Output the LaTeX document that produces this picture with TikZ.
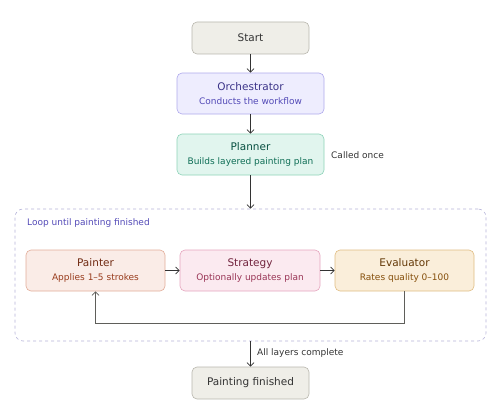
\documentclass[tikz,border=0pt]{standalone}
\usepackage{fontspec}
\setmainfont{DejaVu Sans}
\usetikzlibrary{positioning,arrows.meta}
\definecolor{greyfill}{HTML}{EFEEE8}
\definecolor{greyline}{HTML}{B8B6AD}
\definecolor{greytext}{HTML}{333333}
\definecolor{orchfill}{HTML}{EEEDFE}
\definecolor{orchline}{HTML}{AFA9EC}
\definecolor{orchtitle}{HTML}{3C3489}
\definecolor{orchsub}{HTML}{534AB7}
\definecolor{planfill}{HTML}{E1F5EE}
\definecolor{planline}{HTML}{8ED3B8}
\definecolor{plantitle}{HTML}{085041}
\definecolor{plansub}{HTML}{0F6E56}
\definecolor{paintfill}{HTML}{FAECE7}
\definecolor{paintline}{HTML}{E2AC98}
\definecolor{painttitle}{HTML}{712B13}
\definecolor{paintsub}{HTML}{993C1D}
\definecolor{stratfill}{HTML}{FBEAF0}
\definecolor{stratline}{HTML}{E5A5BE}
\definecolor{strattitle}{HTML}{72243E}
\definecolor{stratsub}{HTML}{993556}
\definecolor{evalfill}{HTML}{FAEEDA}
\definecolor{evalline}{HTML}{E0BC82}
\definecolor{evaltitle}{HTML}{633806}
\definecolor{evalsub}{HTML}{854F0B}
\definecolor{loopline}{HTML}{B4B2D8}
\definecolor{looptext}{HTML}{534AB7}
\definecolor{arrowgrey}{HTML}{5F5E5A}

\begin{document}
\begin{tikzpicture}[x=1pt,y=-1pt,
  box/.style={draw,rounded corners=5pt,line width=0.6pt,align=center,inner sep=0pt,
    minimum width=147pt,minimum height=41pt,font=\fontsize{10.5}{12}\selectfont},
  endbox/.style={box,fill=greyfill,draw=greyline,text=greytext,minimum width=117pt,minimum height=32pt},
  stepbox/.style={box,minimum width=139pt},
  note/.style={anchor=west,inner sep=0pt,font=\fontsize{9}{11}\selectfont},
  flow/.style={-{Straight Barb[length=3.5pt,width=7pt]},line width=0.8pt,draw=greytext}]
 \useasboundingbox (0,0) rectangle (500,412);
 % top column
 \node[endbox] (start) at (250.5,38) {Start};
 \node[box,fill=orchfill,draw=orchline] (orch) at (250.5,93.5)
   {\color{orchtitle}Orchestrator\\[2pt]{\fontsize{9}{10}\selectfont\color{orchsub}Conducts the workflow}};
 \node[box,fill=planfill,draw=planline] (plan) at (250.5,154.5)
   {\color{plantitle}Planner\\[2pt]{\fontsize{9}{10}\selectfont\color{plansub}Builds layered painting plan}};
 \node[note,text=greytext] (once) at (331,155) {Called once};
 % the loop
 \node[draw=loopline,dashed,rounded corners=8pt,line width=0.6pt,minimum width=471pt,minimum height=132pt] (loop) at (250.5,275) {};
 \node[note,text=looptext] (looplbl) at (27,223) {Loop until painting finished};
 \node[stepbox,fill=paintfill,draw=paintline] (paint) at (95.5,270.5)
   {\color{painttitle}Painter\\[2pt]{\fontsize{9}{10}\selectfont\color{paintsub}Applies 1–5 strokes}};
 \node[stepbox,fill=stratfill,draw=stratline,minimum width=140pt] (strat) at (250,270.5)
   {\color{strattitle}Strategy\\[2pt]{\fontsize{9}{10}\selectfont\color{stratsub}Optionally updates plan}};
 \node[stepbox,fill=evalfill,draw=evalline] (eval) at (404.5,270.5)
   {\color{evaltitle}Evaluator\\[2pt]{\fontsize{9}{10}\selectfont\color{evalsub}Rates quality 0–100}};
 % end
 \node[endbox] (done) at (250.5,383) {Painting finished};
 \node[note,text=greytext] (alldone) at (257,353) {All layers complete};
 % connectors
 \draw[flow] (start) -- (orch);
 \draw[flow] (orch) -- (plan);
 \draw[flow] (plan) -- (loop.north);
 \draw[flow] (loop.south) -- (done);
 \draw[flow] (paint) -- (strat);
 \draw[flow] (strat) -- (eval);
 \draw[flow,draw=arrowgrey] (eval.south) -- ++(0,32) -| (paint.south);
\end{tikzpicture}
\end{document}
